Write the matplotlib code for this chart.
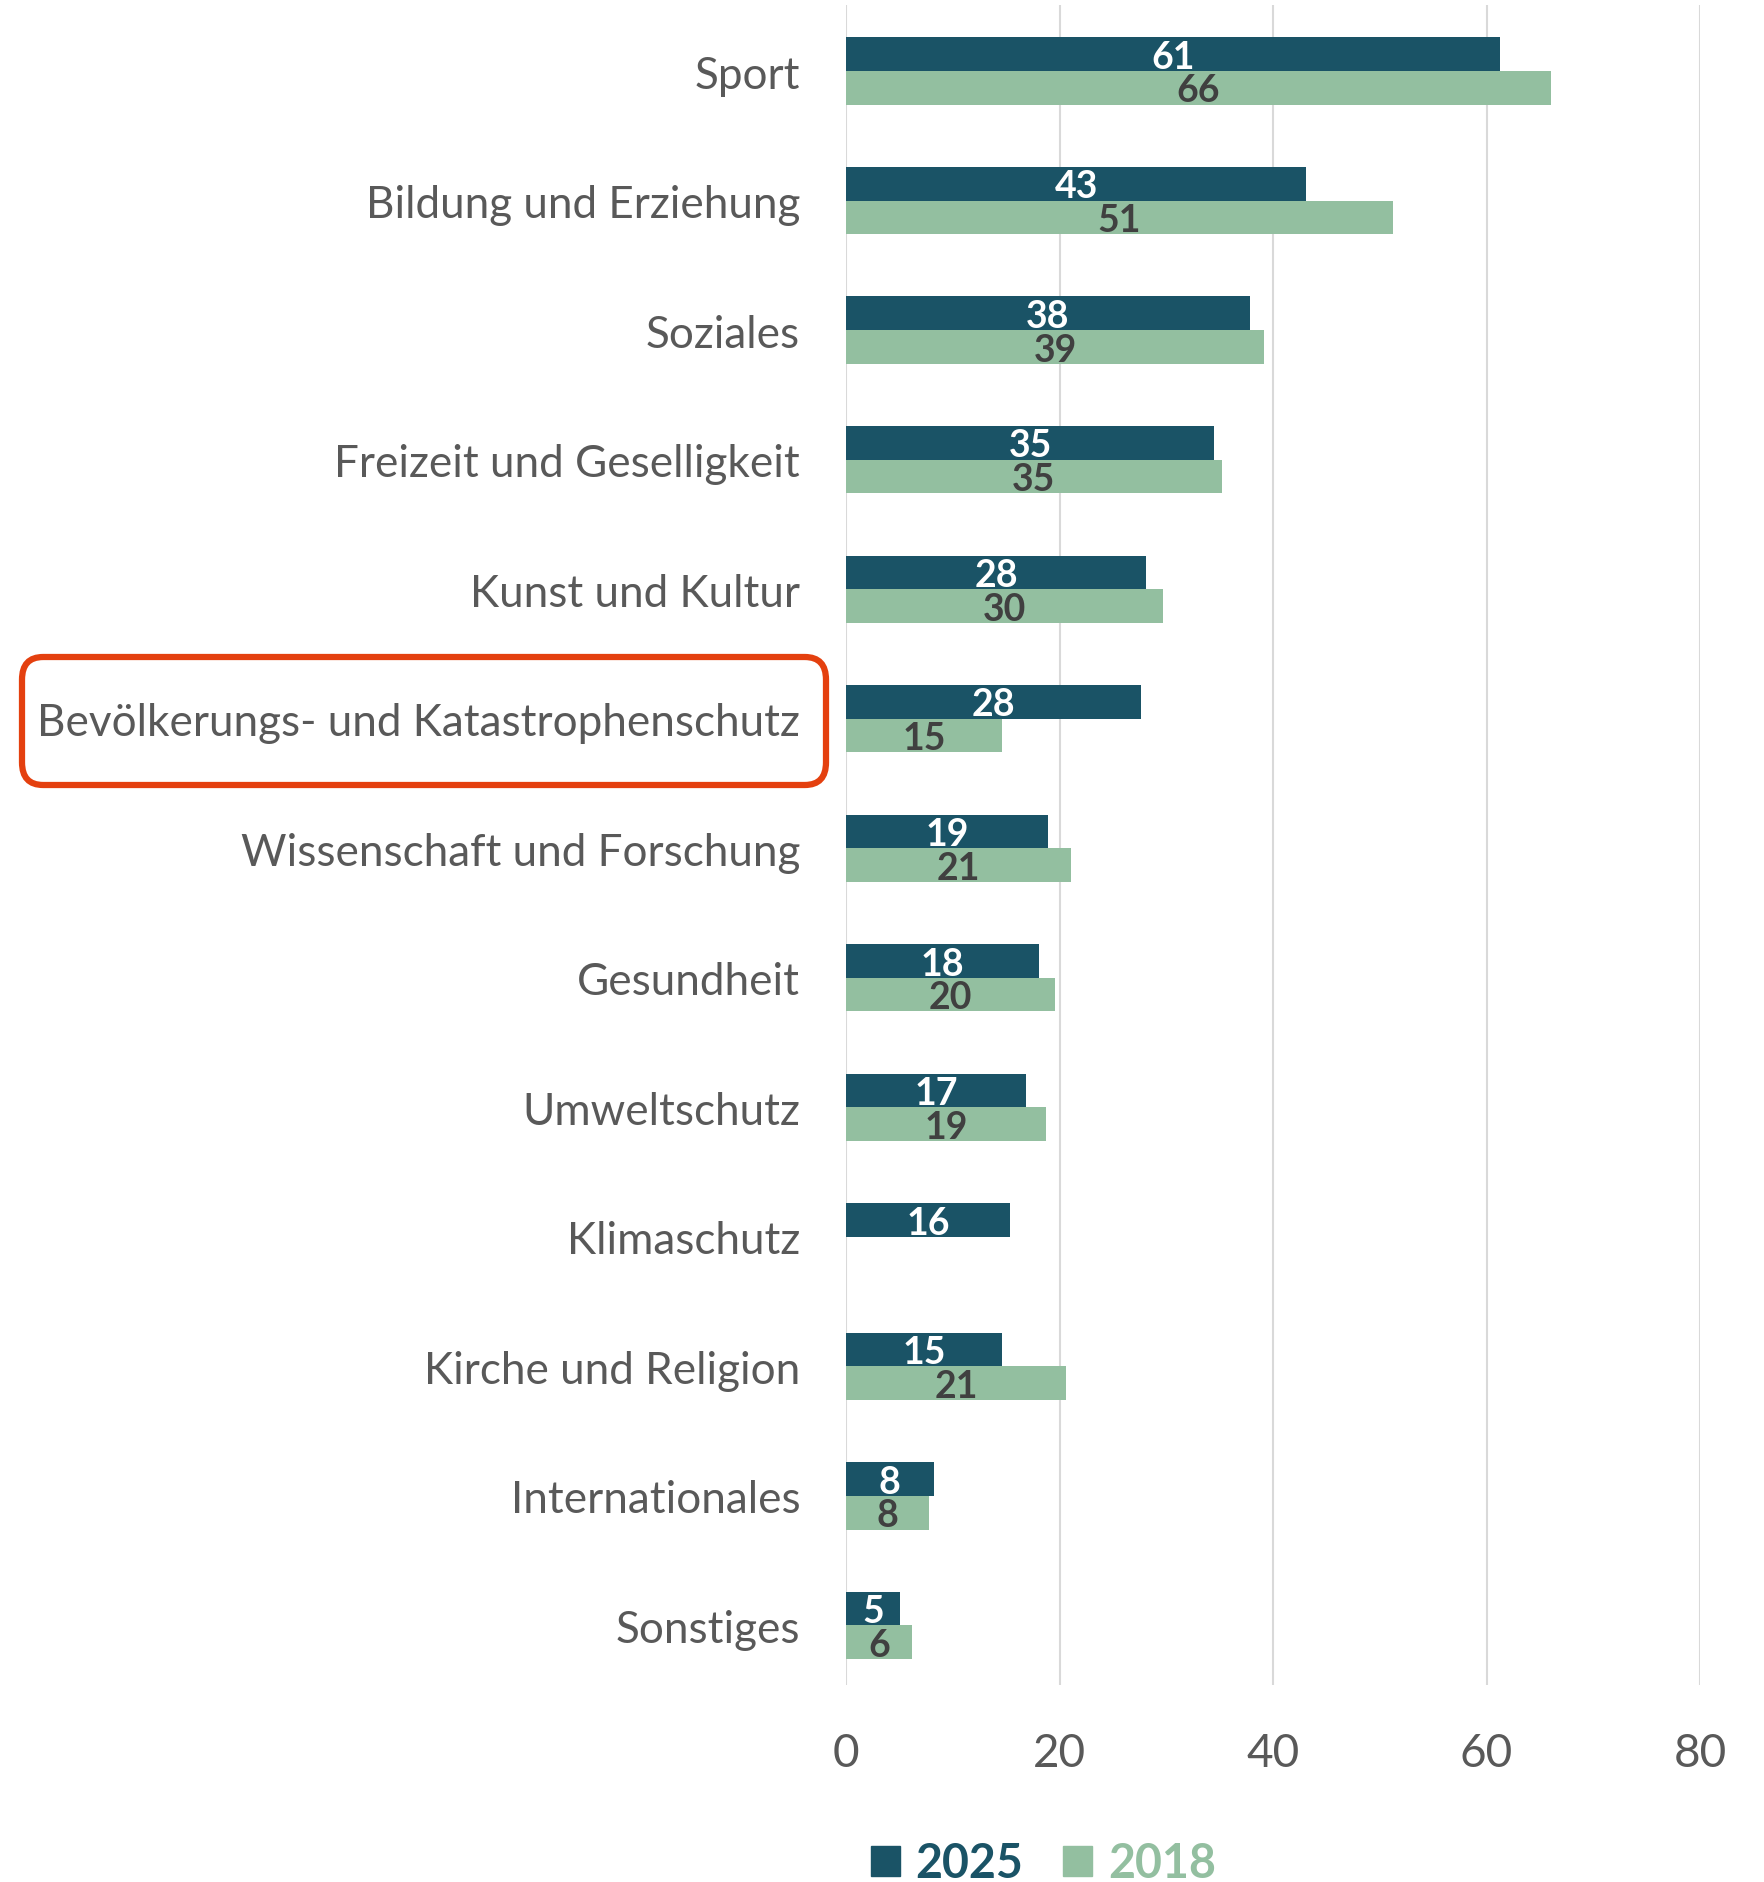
import numpy as np
import matplotlib.pyplot as plt
from matplotlib.patches import FancyBboxPatch, Patch

categories = ["Sport", "Bildung und Erziehung", "Soziales", "Freizeit und Geselligkeit",
              "Kunst und Kultur", "Bevölkerungs- und Katastrophenschutz",
              "Wissenschaft und Forschung", "Gesundheit", "Umweltschutz",
              "Klimaschutz", "Kirche und Religion", "Internationales", "Sonstiges"]
values_2025 = [61.3, 43.1, 37.8, 34.5, 28.1, 27.6, 18.9, 18.1, 16.9, 15.4, 14.6, 8.2, 5.1]
values_2018 = [66.0, 51.2, 39.2, 35.2, 29.7, 14.6, 21.1, 19.6, 18.7, np.nan, 20.6, 7.8, 6.2]
labels_2025 = ["61", "43", "38", "35", "28", "28", "19", "18", "17", "16", "15", "8", "5"]
labels_2018 = ["66", "51", "39", "35", "30", "15", "21", "20", "19", "", "21", "8", "6"]
xticks = [0, 20, 40, 60, 80]

c2025 = "#1a5366"
c2018 = "#93bfa0"

plt.rcParams["font.family"] = ["Lato", "DejaVu Sans"]

fig = plt.figure(figsize=(17.64, 18.83), dpi=100)
ax = fig.add_axes([846 / 1764, 1 - 1686 / 1883, 854 / 1764, 1680 / 1883])

y = np.arange(len(categories))
h = 0.26
ax.barh(y - h / 2, values_2025, height=h, color=c2025, zorder=3)
ax.barh(y + h / 2, values_2018, height=h, color=c2018, zorder=3)

for yi, v, lab in zip(y, values_2025, labels_2025):
    ax.text(v / 2, yi - h / 2 + 0.02, lab, ha="center", va="center", color="white",
            fontsize=27, fontweight="bold", zorder=4)
for yi, v, lab in zip(y, values_2018, labels_2018):
    if lab:
        ax.text(v / 2, yi + h / 2 + 0.02, lab, ha="center", va="center", color="#404040",
                fontsize=27, fontweight="bold", zorder=4)

ax.set_xlim(0, 80)
ax.set_ylim(12.46, -0.51)
ax.set_xticks(xticks)
ax.set_yticks(y)
ax.set_yticklabels(categories, fontsize=31.7, color="#595959")
ax.tick_params(axis="x", labelsize=33, labelcolor="#595959", length=0, pad=34)
ax.tick_params(axis="y", length=0, pad=33)
ax.grid(axis="x", color="#d9d9d9", linewidth=1.5, zorder=0)
for s in ax.spines.values():
    s.set_visible(False)

# highlight box around one category
box = FancyBboxPatch((22 / 1764, 1 - 786 / 1883), 804 / 1764, 128 / 1883,
                     boxstyle="round,pad=0,rounding_size=0.012",
                     transform=fig.transFigure, fill=False,
                     edgecolor="#e4400f", linewidth=4.5)
fig.patches.append(box)

handles = [Patch(color=c2025, label="2025"), Patch(color=c2018, label="2018")]
leg = fig.legend(handles=handles, loc="center left", bbox_to_anchor=(871 / 1764, 0.010),
                 ncol=2, frameon=False, prop={"size": 33.5, "weight": "bold"},
                 handlelength=0.63, handleheight=0.63, handletextpad=0.33,
                 columnspacing=0.85, borderpad=0, borderaxespad=0)
for t, c in zip(leg.get_texts(), [c2025, c2018]):
    t.set_color(c)

fig.savefig("out.png", dpi=100)
